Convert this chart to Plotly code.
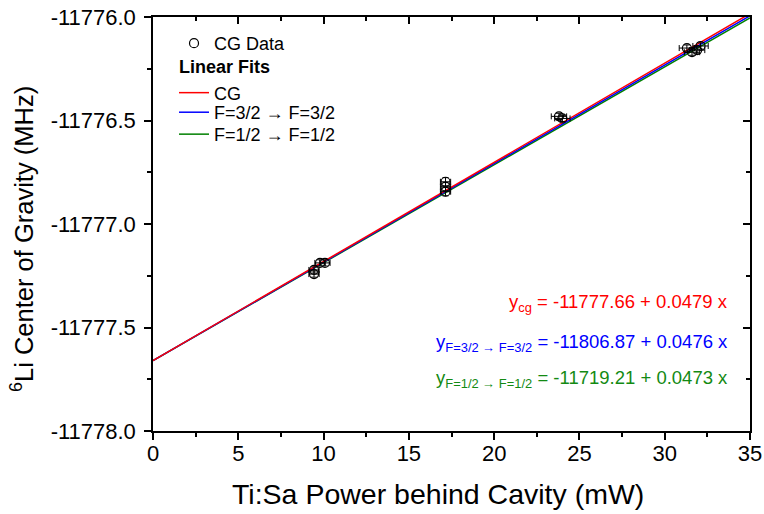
import plotly.graph_objects as go

# ---- data ----
power_mw = [9.44, 9.44, 9.79, 10.08, 17.15, 17.15, 17.15, 23.8, 24.0, 31.3, 31.6, 31.9, 32.1]
cg_mhz = [-11777.242, -11777.222, -11777.188, -11777.188, -11776.796, -11776.820, -11776.844,
          -11776.48, -11776.49, -11776.15, -11776.17, -11776.16, -11776.14]
power_err = [0.3, 0.3, 0.3, 0.3, 0.3, 0.3, 0.3, 0.45, 0.45, 0.45, 0.45, 0.45, 0.45]
cg_err = [0.015, 0.015, 0.015, 0.015, 0.02, 0.02, 0.02, 0.015, 0.015, 0.015, 0.015, 0.015, 0.015]

fit_names = ["CG", "F=3/2 \u2192 F=3/2", "F=1/2 \u2192 F=1/2"]
fit_sub = ["cg", "F=3/2 \u2192 F=3/2", "F=1/2 \u2192 F=1/2"]
fit_intercepts_shown = [-11777.66, -11806.87, -11719.21]
fit_intercepts_plotted = [-11777.66, -11777.66, -11777.66]
fit_slopes = [0.0479, 0.0476, 0.0473]
fit_colors = ["#ff0000", "#0000ff", "#008000"]
fit_text_colors = ["#ff0000", "#0000ff", "#138a13"]

x_range = [0, 35]
x_ticks = [0, 5, 10, 15, 20, 25, 30, 35]
x_ticklabels = ["0", "5", "10", "15", "20", "25", "30", "35"]
y_range = [-11778.0, -11776.0]
y_ticks = [-11778.0, -11777.5, -11777.0, -11776.5, -11776.0]
y_ticklabels = ["-11778.0", "-11777.5", "-11777.0", "-11776.5", "-11776.0"]

x_title = "Ti:Sa Power behind Cavity (mW)"
y_title = "<sup>6</sup>Li Center of Gravity (MHz)"

FONT = "Liberation Sans, Arial, sans-serif"
LEG_FONT = dict(size=18, family=FONT, color="black")

fig = go.Figure()

# fit lines: draw green first, red last (red on top); each entry in its own legend box
fit_legends = ["legend2", "legend3", "legend4"]
for i in reversed(range(3)):
    xs = x_range
    ys = [fit_intercepts_plotted[i] + fit_slopes[i] * v for v in xs]
    fig.add_trace(go.Scatter(
        x=xs, y=ys, mode="lines", name=fit_names[i],
        line=dict(color=fit_colors[i], width=1.5),
        legend=fit_legends[i],
        legendgroup="fits" if i == 0 else None,
        legendgrouptitle=dict(text="<b>Linear Fits</b>", font=LEG_FONT) if i == 0 else None,
    ))

fig.add_trace(go.Scatter(
    x=power_mw, y=cg_mhz, mode="markers", name="CG Data",
    marker=dict(symbol="circle-open", size=9, color="black", line=dict(width=1.2, color="black")),
    error_x=dict(type="data", array=power_err, color="black", thickness=1, width=3),
    error_y=dict(type="data", array=cg_err, color="black", thickness=1, width=3),
    legend="legend",
))

# invisible trace for mirrored (top/right) axes
fig.add_trace(go.Scatter(x=[None], y=[None], xaxis="x2", yaxis="y2", showlegend=False, hoverinfo="skip"))

# equations
ann_y = [0.308, 0.2114, 0.1244]
for i in range(3):
    fig.add_annotation(
        xref="paper", yref="paper", x=0.9665, y=ann_y[i], xanchor="right", yanchor="middle",
        text=f"y<sub>{fit_sub[i]}</sub> = {fit_intercepts_shown[i]:.2f} + {fit_slopes[i]:.4f} x",
        showarrow=False, font=dict(size=18.5, family=FONT, color=fit_text_colors[i]),
    )

# axis titles (placed as in the reference, slightly off-centre)
fig.add_annotation(xref="paper", yref="paper", x=0.478, y=-0.152, xanchor="center", yanchor="middle",
                   text=x_title, showarrow=False, font=dict(size=28.5, family=FONT, color="black"))
fig.add_annotation(xref="paper", yref="paper", x=-0.2195, y=0.4638, xanchor="center", yanchor="middle",
                   text=y_title, textangle=-90, showarrow=False,
                   font=dict(size=25.5, family=FONT, color="black"))

axis_common = dict(
    showline=True, linecolor="black", linewidth=1.5, showgrid=False, zeroline=False,
    ticks="outside", ticklen=7, tickwidth=1.5, tickcolor="black", automargin=False,
    ticklabeloverflow="allow",
    tickfont=dict(size=22, family=FONT, color="black"),
)

leg_common = dict(xanchor="left", yanchor="top", font=LEG_FONT, bgcolor="rgba(0,0,0,0)", x=0.0352)

fig.update_layout(
    width=764, height=514,
    margin=dict(l=153, r=14, t=17, b=83),
    plot_bgcolor="white", paper_bgcolor="white",
    font=dict(family=FONT, color="black"),
    xaxis=dict(
        range=x_range, tickmode="array", tickvals=x_ticks, ticktext=x_ticklabels, ticklabelstandoff=-5,
        minor=dict(dtick=2.5, tick0=0, ticks="outside", ticklen=4, tickwidth=1.5, tickcolor="black"),
        **axis_common,
    ),
    yaxis=dict(
        range=y_range, tickmode="array", tickvals=y_ticks, ticktext=y_ticklabels, ticklabelstandoff=4,
        minor=dict(dtick=0.25, tick0=-11778, ticks="outside", ticklen=4, tickwidth=1.5, tickcolor="black"),
        **axis_common,
    ),
    xaxis2=dict(
        overlaying="x", side="top", anchor="y2", range=x_range, dtick=5, tick0=0,
        showticklabels=False, showline=True, linecolor="black", linewidth=1.5, showgrid=False, zeroline=False,
        ticks="inside", ticklen=7, tickwidth=1.5, tickcolor="black", automargin=False,
        minor=dict(dtick=2.5, ticks="inside", ticklen=4, tickwidth=1.5, tickcolor="black"),
    ),
    yaxis2=dict(
        overlaying="y", side="right", anchor="x2", range=y_range, dtick=0.5, tick0=-11778,
        showticklabels=False, showline=True, linecolor="black", linewidth=1.5, showgrid=False, zeroline=False,
        ticks="inside", ticklen=7, tickwidth=1.5, tickcolor="black", automargin=False,
        minor=dict(dtick=0.25, ticks="inside", ticklen=4, tickwidth=1.5, tickcolor="black"),
    ),
    legend=dict(y=0.9807, **leg_common),
    legend2=dict(y=0.925, **leg_common),
    legend3=dict(y=0.814, **leg_common),
    legend4=dict(y=0.761, **leg_common),
    showlegend=True,
)

# remove the browser's default 8px page margin so the 764x514 figure fills the window
fig.write_html(
    "out.html",
    config={"displayModeBar": False},
    post_script="document.body.style.margin='0';document.body.style.overflow='hidden';",
)
